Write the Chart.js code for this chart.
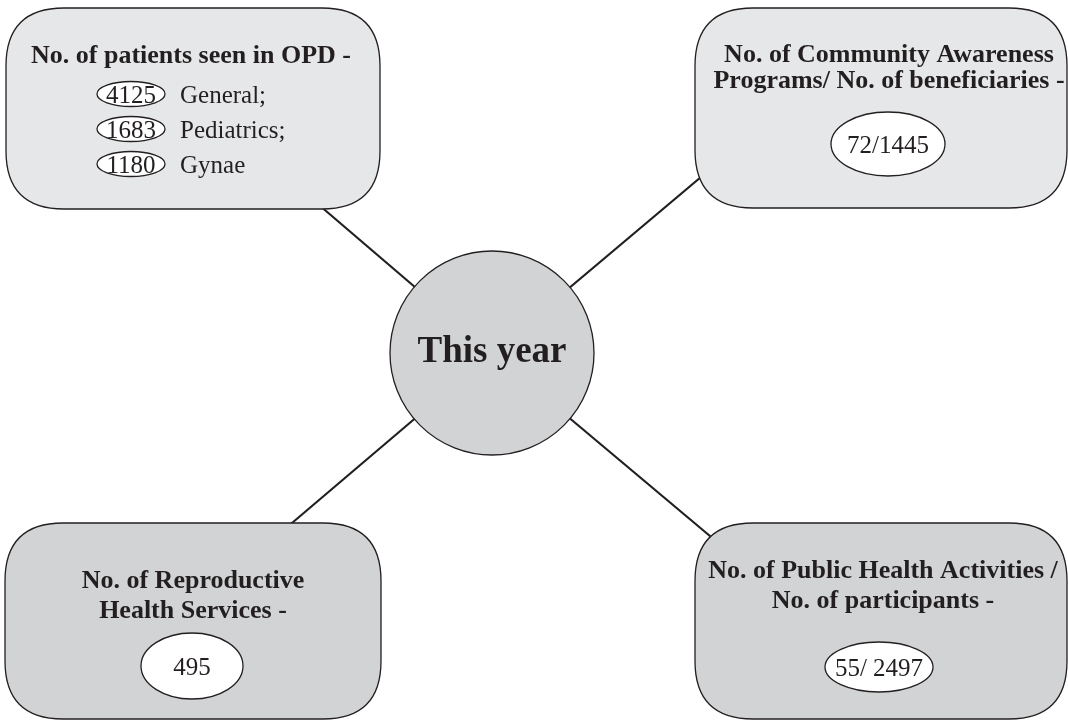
<!doctype html>
<html><head><meta charset="utf-8"><title>This year</title>
<script src="https://cdn.jsdelivr.net/npm/chart.js"></script>
<style>
  html, body { margin: 0; padding: 0; background: #fff; }
  #wrap { width: 1068px; height: 720px; }
</style>
</head><body>
<div id="wrap"><canvas id="c" width="1068" height="720"></canvas></div>
<script>
// --- data ---
const hubLabel = 'This year';
const panelTitles = [
  ['No. of patients seen in OPD -'],
  ['No. of Community Awareness', 'Programs/ No. of beneficiaries -'],
  ['No. of Reproductive', 'Health Services -'],
  ['No. of Public Health Activities /', 'No. of participants -']
];
const opdDepartments = ['General;', 'Pediatrics;', 'Gynae'];
const opdPatients = [4125, 1683, 1180];
const panelValues = [null, '72/1445', '495', '55/ 2497'];

// --- layout (pixel space of the 1068x720 frame) ---
const hub = { x: 492, y: 353, r: 102 };
const connectorEnds = [[305, 193], [720, 161], [272, 540], [729, 552]];
const boxes = [
  { x0: 6, y0: 8, x1: 380, y1: 209, fill: '#e6e7e8', cx: 191, lines: [63] },
  { x0: 695, y0: 8, x1: 1067, y1: 208, fill: '#e6e7e8', cx: 889, lines: [62, 88],
    oval: { x: 888, y: 144, rx: 57, ry: 32, base: 153 } },
  { x0: 5, y0: 523, x1: 381, y1: 719, fill: '#d1d3d4', cx: 193, lines: [588, 618],
    oval: { x: 192, y: 666, rx: 51, ry: 33, base: 675 } },
  { x0: 695, y0: 523, x1: 1067, y1: 719, fill: '#d1d3d4', cx: 883, lines: [578, 608],
    oval: { x: 879, y: 667, rx: 54, ry: 25, base: 676 } }
];
const opdRows = { numX: 131, labelX: 180, rx: 34, ry: 12.5, centers: [94, 129, 164] };
const ink = '#231f20';
const serif = '"Liberation Serif", "Times New Roman", serif';

const connectorSets = connectorEnds.map(e => ({
  type: 'scatter',
  data: [{ x: hub.x, y: hub.y }, { x: e[0], y: e[1] }],
  showLine: true,
  borderColor: ink,
  borderWidth: 2.2,
  pointRadius: 0
}));

function roundBox(ctx, x0, y0, x1, y1, r) {
  ctx.beginPath();
  ctx.moveTo(x0 + r, y0);
  ctx.lineTo(x1 - r, y0);
  ctx.quadraticCurveTo(x1, y0, x1, y0 + r);
  ctx.lineTo(x1, y1 - r);
  ctx.quadraticCurveTo(x1, y1, x1 - r, y1);
  ctx.lineTo(x0 + r, y1);
  ctx.quadraticCurveTo(x0, y1, x0, y1 - r);
  ctx.lineTo(x0, y0 + r);
  ctx.quadraticCurveTo(x0, y0, x0 + r, y0);
  ctx.closePath();
}

function oval(ctx, x, y, rx, ry) {
  ctx.beginPath();
  ctx.ellipse(x, y, rx, ry, 0, 0, Math.PI * 2);
  ctx.fillStyle = '#fff';
  ctx.fill();
  ctx.lineWidth = 1.3;
  ctx.strokeStyle = ink;
  ctx.stroke();
}

const panelsPlugin = {
  id: 'panels',
  afterDatasetsDraw(chart) {
    const ctx = chart.ctx;
    const sx = v => chart.scales.x.getPixelForValue(v);
    const sy = v => chart.scales.y.getPixelForValue(v);
    ctx.save();
    boxes.forEach((b, i) => {
      roundBox(ctx, sx(b.x0), sy(b.y0), sx(b.x1), sy(b.y1), 58);
      ctx.fillStyle = b.fill;
      ctx.fill();
      ctx.lineWidth = 1.3;
      ctx.strokeStyle = ink;
      ctx.stroke();

      ctx.fillStyle = ink;
      ctx.textAlign = 'center';
      ctx.textBaseline = 'alphabetic';
      ctx.font = 'bold 26px ' + serif;
      panelTitles[i].forEach((t, k) => ctx.fillText(t, sx(b.cx), sy(b.lines[k])));

      if (b.oval && panelValues[i] != null) {
        oval(ctx, sx(b.oval.x), sy(b.oval.y), b.oval.rx, b.oval.ry);
        ctx.fillStyle = ink;
        ctx.font = '25px ' + serif;
        ctx.textAlign = 'center';
        ctx.fillText(panelValues[i], sx(b.oval.x), sy(b.oval.base));
      }
    });

    // OPD breakdown rows
    opdPatients.forEach((n, k) => {
      const cy = opdRows.centers[k];
      oval(ctx, sx(opdRows.numX), sy(cy), opdRows.rx, opdRows.ry);
      ctx.fillStyle = ink;
      ctx.font = '25px ' + serif;
      ctx.textAlign = 'center';
      ctx.fillText(String(n), sx(opdRows.numX), sy(cy + 9));
      ctx.textAlign = 'left';
      ctx.fillText(opdDepartments[k], sx(opdRows.labelX), sy(cy + 9));
    });

    // hub label
    ctx.fillStyle = ink;
    ctx.font = 'bold 37px ' + serif;
    ctx.textAlign = 'center';
    ctx.fillText(hubLabel, sx(hub.x), sy(hub.y + 9));
    ctx.restore();
  }
};

new Chart(document.getElementById('c'), {
  type: 'scatter',
  data: {
    datasets: [{
      data: [{ x: hub.x, y: hub.y }],
      pointRadius: hub.r,
      pointHoverRadius: hub.r,
      backgroundColor: '#d1d3d4',
      borderColor: ink,
      borderWidth: 1.3,
      clip: false
    }].concat(connectorSets)
  },
  options: {
    responsive: false,
    animation: false,
    events: [],
    layout: { padding: 0, autoPadding: false },
    scales: {
      x: { type: 'linear', min: 0, max: 1068, display: false },
      y: { type: 'linear', min: 0, max: 720, reverse: true, display: false }
    },
    plugins: { legend: { display: false }, tooltip: { enabled: false } }
  },
  plugins: [panelsPlugin]
});
</script>
</body></html>
